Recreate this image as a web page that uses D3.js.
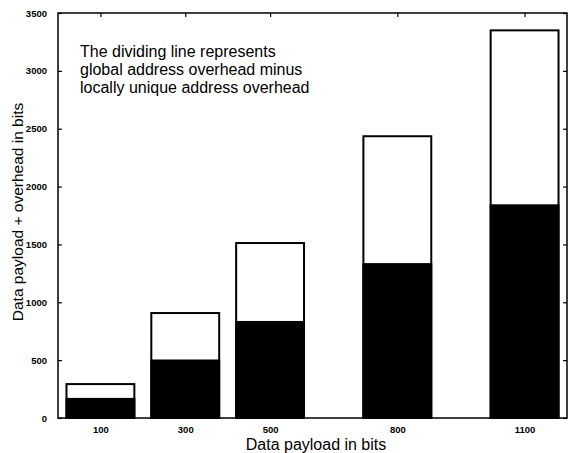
<!DOCTYPE html>
<html>
<head>
<meta charset="utf-8">
<script src="https://cdn.jsdelivr.net/npm/d3@7"></script>
<style>
  html, body { margin: 0; padding: 0; background: #fff; }
  svg { display: block; font-family: "Liberation Sans", Arial, sans-serif; }
</style>
</head>
<body>
<svg id="chart" width="570" height="453"></svg>
<script>
// ---- data ----
const payloads = [100, 300, 500, 800, 1100];
const dividing = [165, 497, 830, 1330, 1838];   // black part (top of dividing line)
const totals   = [293, 907, 1512, 2435, 3350];  // total bar height
const yTicks   = [0, 500, 1000, 1500, 2000, 2500, 3000, 3500];
const noteLines = [
  "The dividing line represents",
  "global address overhead minus",
  "locally unique address overhead"
];
const xTitle = "Data payload in bits";
const yTitle = "Data payload + overhead in bits";

// ---- layout ----
const W = 570, H = 453;
const m = { left: 58, right: 3, top: 13, bottom: 35 };
const svg = d3.select("#chart");

const x = d3.scaleLinear().domain([0, 1200]).range([m.left, W - m.right]);
const y = d3.scaleLinear().domain([0, 3500]).range([H - m.bottom, m.top]);
const barW = x(160) - x(0);

const g = svg.append("g");

// upper (white) bars
g.selectAll("rect.total").data(payloads).join("rect")
  .attr("class", "total")
  .attr("x", (d) => x(d) - barW / 2)
  .attr("width", barW)
  .attr("y", (d, i) => y(totals[i]))
  .attr("height", (d, i) => y(0) - y(totals[i]))
  .attr("fill", "#fff")
  .attr("stroke", "#000")
  .attr("stroke-width", 2);

// lower (black) bars
g.selectAll("rect.div").data(payloads).join("rect")
  .attr("class", "div")
  .attr("x", (d) => x(d) - barW / 2)
  .attr("width", barW)
  .attr("y", (d, i) => y(dividing[i]))
  .attr("height", (d, i) => y(0) - y(dividing[i]))
  .attr("fill", "#000")
  .attr("stroke", "#000")
  .attr("stroke-width", 2);

// frame
svg.append("rect")
  .attr("x", m.left).attr("y", m.top)
  .attr("width", W - m.left - m.right).attr("height", H - m.top - m.bottom)
  .attr("fill", "none").attr("stroke", "#000").attr("stroke-width", 1.5);

// axes
const tickFont = (sel) => sel.selectAll("text")
  .attr("font-size", 9.5).attr("font-weight", "bold")
  .attr("font-family", "'Liberation Sans', Arial, sans-serif").attr("fill", "#000");

const yAxis = svg.append("g").attr("transform", `translate(${m.left},0)`)
  .call(d3.axisLeft(y).tickValues(yTicks).tickFormat(d3.format("d")).tickSizeInner(-4).tickSizeOuter(0).tickPadding(11));
yAxis.select(".domain").remove();
yAxis.selectAll("line").attr("stroke", "#000").attr("stroke-width", 1.2);
tickFont(yAxis);

const yAxisR = svg.append("g").attr("transform", `translate(${W - m.right},0)`)
  .call(d3.axisRight(y).tickValues(yTicks).tickFormat("").tickSizeInner(-4).tickSizeOuter(0));
yAxisR.select(".domain").remove();
yAxisR.selectAll("line").attr("stroke", "#000").attr("stroke-width", 1.2);

const xAxis = svg.append("g").attr("transform", `translate(0,${H - m.bottom})`)
  .call(d3.axisBottom(x).tickValues(payloads).tickFormat(d3.format("d")).tickSizeInner(-4).tickSizeOuter(0).tickPadding(8));
xAxis.select(".domain").remove();
xAxis.selectAll("line").attr("stroke", "#000").attr("stroke-width", 1.2);
tickFont(xAxis);

const xAxisT = svg.append("g").attr("transform", `translate(0,${m.top})`)
  .call(d3.axisTop(x).tickValues(payloads).tickFormat("").tickSizeInner(-4).tickSizeOuter(0));
xAxisT.select(".domain").remove();
xAxisT.selectAll("line").attr("stroke", "#000").attr("stroke-width", 1.2);

// annotation
const note = svg.append("text").attr("x", 80).attr("y", 56.7)
  .attr("font-size", 16).attr("fill", "#000");
note.selectAll("tspan").data(noteLines).join("tspan")
  .attr("x", 80).attr("dy", (d, i) => i === 0 ? 0 : 18).text((d) => d);

// axis titles
svg.append("text").attr("x", 316).attr("y", 450).attr("text-anchor", "middle")
  .attr("font-size", 16).attr("fill", "#000").text(xTitle);
svg.append("text").attr("transform", "translate(23,212) rotate(-90)").attr("text-anchor", "middle")
  .attr("font-size", 15.5).attr("fill", "#000").text(yTitle);
</script>
</body>
</html>
